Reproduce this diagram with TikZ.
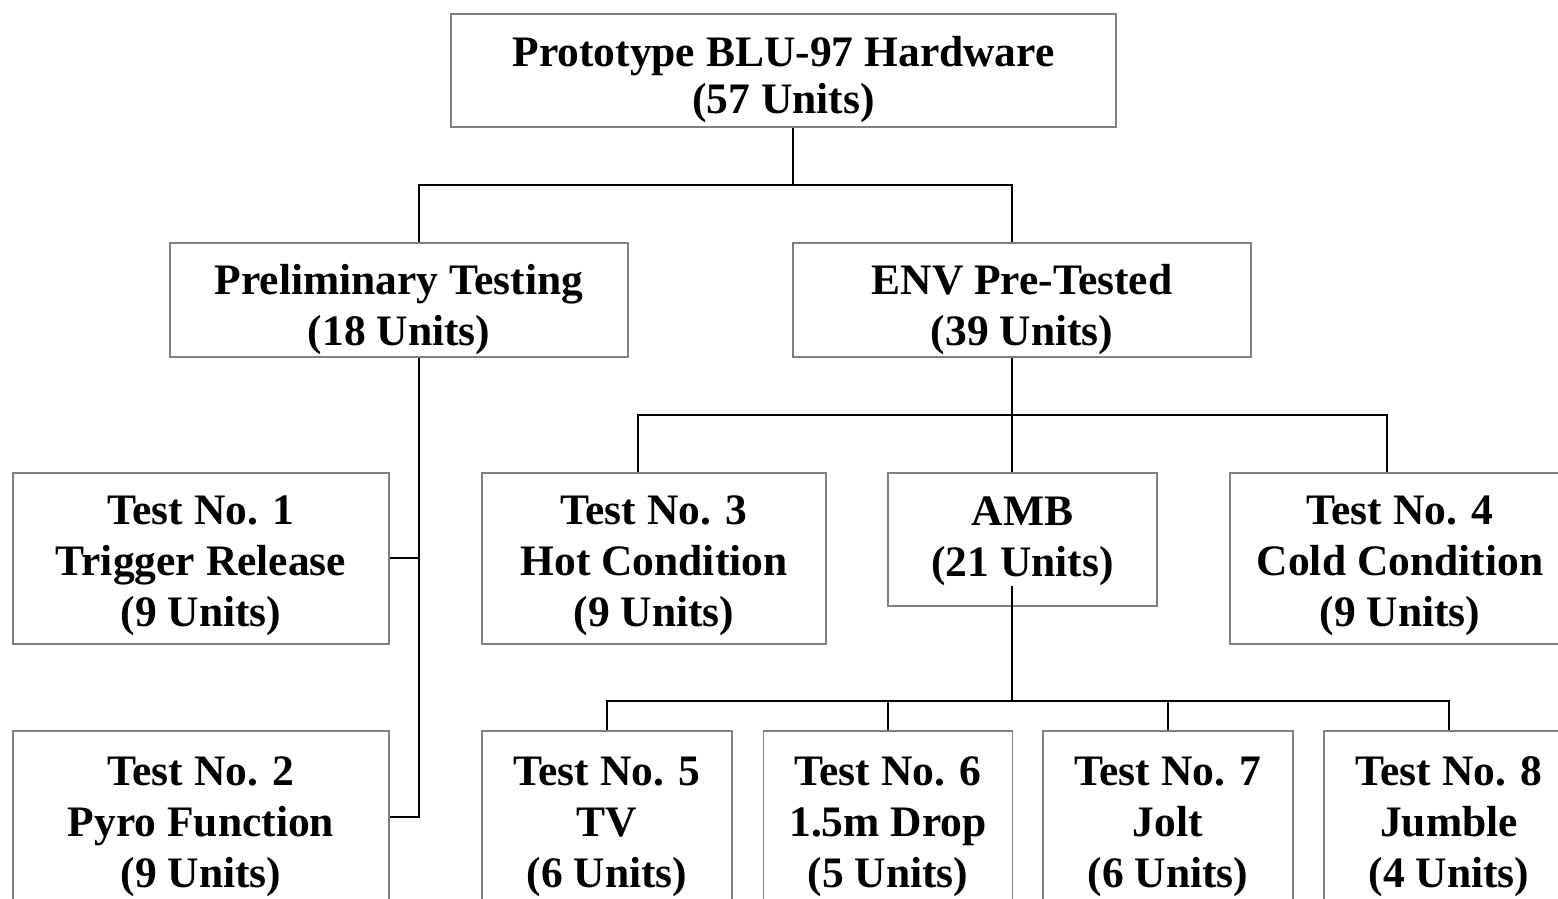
\documentclass[tikz,border=0pt]{standalone}
\usepackage{fontspec}
\setmainfont{Liberation Serif}
\newcommand\boxtxt[2]{\raisebox{-#1}[\height][\depth]{\begin{tabular}{@{}c@{}}#2\end{tabular}}}
\begin{document}
\begin{tikzpicture}[x=1pt,y=-1pt,
  box/.style={draw=black!50, line width=1.6pt, inner sep=0pt, align=center,
    font=\bfseries\fontsize{43.5}{51}\selectfont},
  conn/.style={draw=black, line width=1.8pt}]
\useasboundingbox (0,0) rectangle (1558,899);
\clip (0,0) rectangle (1558,899);
% nodes
\node[box, minimum width=665pt, minimum height=113pt, font=\bfseries\fontsize{43.5}{47}\selectfont] (top) at (783.5,70.5) {\boxtxt{10pt}{Prototype BLU-97 Hardware\\(57 Units)}};
\node[box, minimum width=458pt, minimum height=114pt] (prelim) at (399,300) {\boxtxt{10pt}{Preliminary Testing\\(18 Units)}};
\node[box, minimum width=458pt, minimum height=114pt] (env) at (1022,300) {\boxtxt{10pt}{ENV Pre-Tested\\(39 Units)}};
\node[box, minimum width=376pt, minimum height=171pt] (t1) at (201,558.5) {\boxtxt{7pt}{Test No. 1\\Trigger Release\\(9 Units)}};
\node[box, minimum width=376pt, minimum height=180pt] (t2) at (201,821) {\boxtxt{5pt}{Test No. 2\\Pyro Function\\(9 Units)}};
\node[box, minimum width=344pt, minimum height=171pt] (t3) at (654,558.5) {\boxtxt{7pt}{Test No. 3\\Hot Condition\\(9 Units)}};
\node[box, minimum width=269pt, minimum height=133pt] (amb) at (1022.5,539.5) {\boxtxt{1pt}{AMB\\(21 Units)}};
\node[box, minimum width=340pt, minimum height=171pt] (t4) at (1400,558.5) {\boxtxt{7pt}{Test No. 4\\Cold Condition\\(9 Units)}};
\node[box, minimum width=250pt, minimum height=180pt] (t5) at (607,821) {\boxtxt{5pt}{Test No. 5\\TV\\(6 Units)}};
\node[box, minimum width=249pt, minimum height=180pt] (t6) at (888,821) {\boxtxt{5pt}{Test No. 6\\1.5m Drop\\(5 Units)}};
\node[box, minimum width=250pt, minimum height=180pt] (t7) at (1168,821) {\boxtxt{5pt}{Test No. 7\\Jolt\\(6 Units)}};
\node[box, minimum width=250pt, minimum height=180pt] (t8) at (1449,821) {\boxtxt{5pt}{Test No. 8\\Jumble\\(4 Units)}};
% junction coordinates
\coordinate (b1) at (793,185);
\coordinate (c1) at (419,185);
\coordinate (c2) at (1012,185);
\coordinate (p1) at (419,558);
\coordinate (p2) at (419,817);
\coordinate (e) at (1012,415);
\coordinate (e3) at (638,415);
\coordinate (e4) at (1387,415);
\coordinate (a0) at (1012,586);
\coordinate (a1) at (1012,701);
\coordinate (a5) at (607,701);
\coordinate (a8) at (1449,701);
% connectors
\draw[conn] (top.south -| b1) -- (b1);
\draw[conn] (prelim.north -| c1) -- (c1) -- (c2) -- (env.north -| c2);
\draw[conn] (prelim.south -| p2) -- (p2) -- (t2.east |- p2);
\draw[conn] (p1) -- (t1.east |- p1);
\draw[conn] (env.south -| e) -- (amb.north -| e);
\draw[conn] (t3.north -| e3) -- (e3) -- (e4) -- (t4.north -| e4);
\draw[conn] (a0) -- (a1);
\draw[conn] (t5.north -| a5) -- (a5) -- (a8) -- (t8.north -| a8);
\draw[conn] (t6.north) -- (t6.north |- a1);
\draw[conn] (t7.north) -- (t7.north |- a1);
\end{tikzpicture}
\end{document}
